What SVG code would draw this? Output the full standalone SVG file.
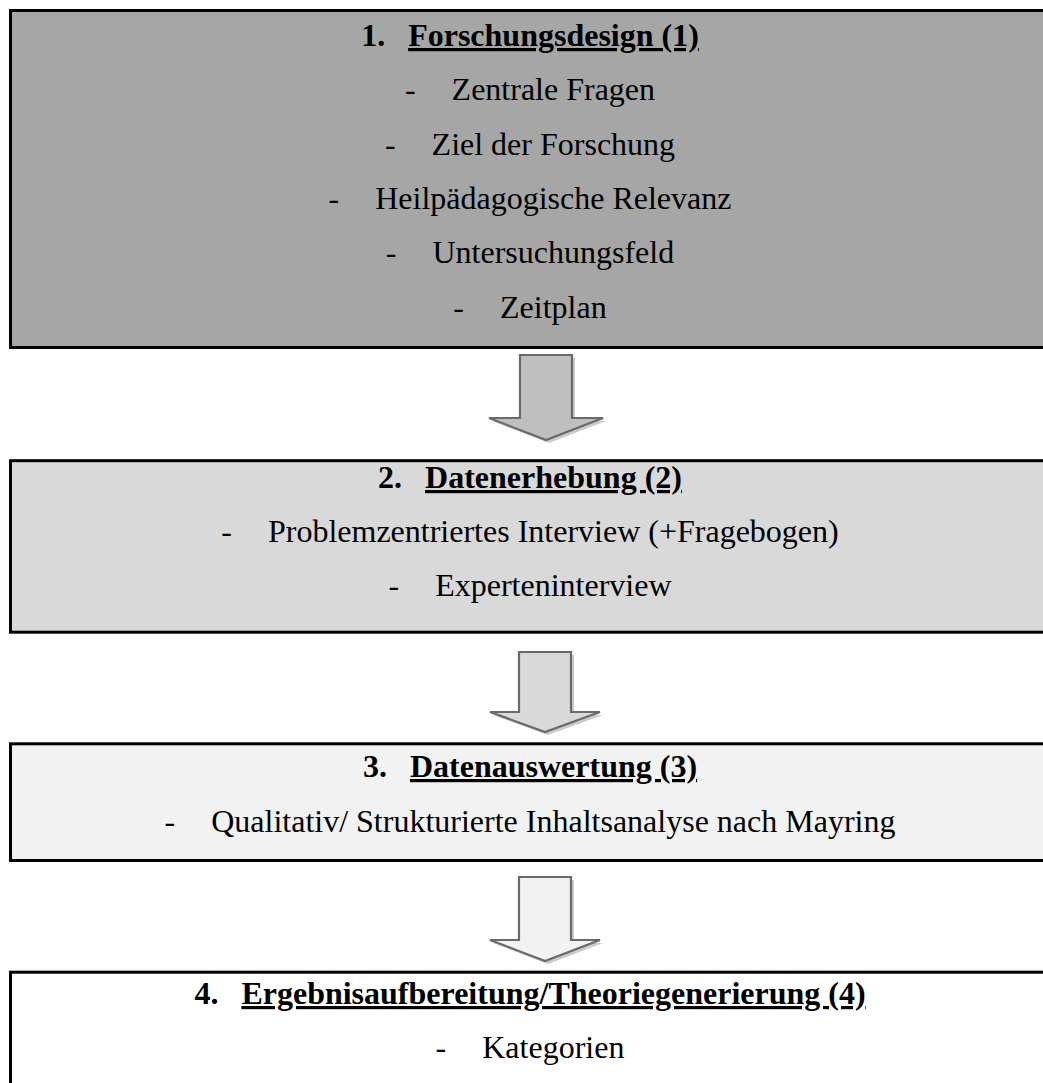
<svg xmlns="http://www.w3.org/2000/svg" width="1043" height="1083" viewBox="0 0 1043 1083">
<style>
.box{stroke:#000;stroke-width:3}
.t{font-family:"Liberation Serif","Times New Roman",serif;font-size:32px;fill:#000}
.b{font-weight:bold}
.u{text-decoration:underline;text-decoration-skip-ink:none;text-decoration-thickness:3px}
.arr{stroke:#6a6a6a;stroke-width:2.2;stroke-linejoin:miter}
.sh{fill:#8c8c8c;opacity:0.45}
</style>
<rect width="1043" height="1083" fill="#fff"/>
<g id="node1">
<rect class="box" x="10.5" y="10.5" width="1100" height="337" fill="#a6a6a6"/>
<text class="t b" x="530" y="46" text-anchor="middle"><tspan>1.</tspan><tspan class="u" dx="23">Forschungsdesign (1)</tspan></text>
<text class="t" x="530" y="100" text-anchor="middle"><tspan>-</tspan><tspan dx="36">Zentrale Fragen</tspan></text>
<text class="t" x="530" y="154.5" text-anchor="middle"><tspan>-</tspan><tspan dx="36">Ziel der Forschung</tspan></text>
<text class="t" x="530" y="209" text-anchor="middle"><tspan>-</tspan><tspan dx="36">Heilpädagogische Relevanz</tspan></text>
<text class="t" x="530" y="263" text-anchor="middle"><tspan>-</tspan><tspan dx="36">Untersuchungsfeld</tspan></text>
<text class="t" x="530" y="317.5" text-anchor="middle"><tspan>-</tspan><tspan dx="36">Zeitplan</tspan></text>
</g>
<g id="node2">
<rect class="box" x="10.5" y="460.7" width="1100" height="171.5" fill="#d9d9d9"/>
<text class="t b" x="530" y="488" text-anchor="middle"><tspan>2.</tspan><tspan class="u" dx="23">Datenerhebung (2)</tspan></text>
<text class="t" x="530" y="542" text-anchor="middle"><tspan>-</tspan><tspan dx="36">Problemzentriertes Interview (+Fragebogen)</tspan></text>
<text class="t" x="530" y="596" text-anchor="middle"><tspan>-</tspan><tspan dx="36">Experteninterview</tspan></text>
</g>
<g id="node3">
<rect class="box" x="10.5" y="743.8" width="1100" height="116.7" fill="#f2f2f2"/>
<text class="t b" x="530" y="777" text-anchor="middle"><tspan>3.</tspan><tspan class="u" dx="23">Datenauswertung (3)</tspan></text>
<text class="t" x="530" y="832" text-anchor="middle"><tspan>-</tspan><tspan dx="36">Qualitativ/ Strukturierte Inhaltsanalyse nach Mayring</tspan></text>
</g>
<g id="node4">
<rect class="box" x="10.5" y="972.2" width="1100" height="200" fill="#fff"/>
<text class="t b" x="530" y="1004" text-anchor="middle"><tspan>4.</tspan><tspan class="u" dx="23">Ergebnisaufbereitung/Theoriegenerierung (4)</tspan></text>
<text class="t" x="530" y="1058" text-anchor="middle"><tspan>-</tspan><tspan dx="36">Kategorien</tspan></text>
</g>
<g id="connectors">
<polygon class="sh" points="523,358 575,358 575,421 606,421 549,443 492,421 523,421"/>
<polygon class="arr" fill="#bfbfbf" points="520,355 572,355 572,418 603,418 546,440 489,418 520,418"/>
<polygon class="sh" points="522,655 574,655 574,715 603,715 548,735 493,715 522,715"/>
<polygon class="arr" fill="#d9d9d9" points="519,652 571,652 571,712 600,712 545,732 490,712 519,712"/>
<polygon class="sh" points="522,880 574,880 574,943 603,943 548,964 493,943 522,943"/>
<polygon class="arr" fill="#f2f2f2" points="519,877 571,877 571,940 600,940 545,961 490,940 519,940"/>
</g>
</svg>
